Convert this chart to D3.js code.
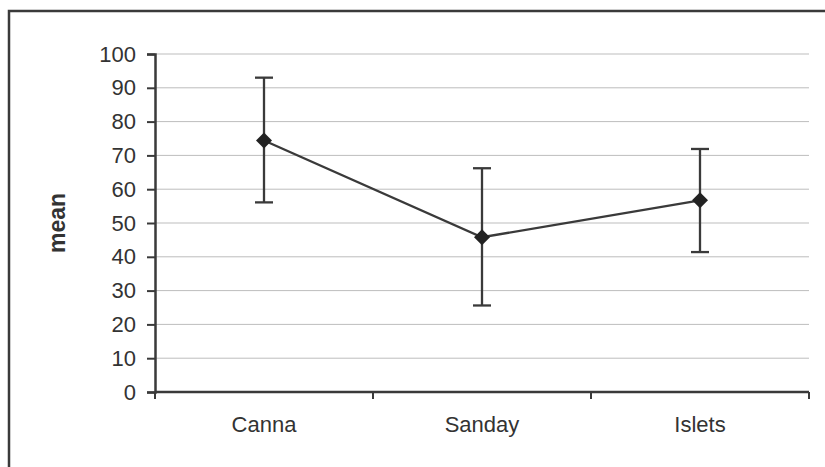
<html>
<head>
<style>
  body { margin: 0; background: #fff; }
  svg { display: block; font-family: "Liberation Sans", Arial, sans-serif; }
</style>
</head>
<body>
<script src="https://d3js.org/d3.v7.min.js"></script>
<svg width="825" height="467"></svg>
<script>
// values
var sites = ["Canna", "Sanday", "Islets"];
var means = [74.4, 45.8, 56.7];
var upper = [93.0, 66.2, 71.9];
var lower = [56.1, 25.6, 41.4];
var yTicks = [0, 10, 20, 30, 40, 50, 60, 70, 80, 90, 100];

var svg = d3.select("svg");
var ink = "#3a3a3a";

// outer frame (right and bottom run off the picture)
svg.append("rect")
    .attr("x", 9).attr("y", 11)
    .attr("width", 840).attr("height", 480)
    .attr("fill", "none").attr("stroke", ink).attr("stroke-width", 2.5);

var pl = 155, pr = 809, pt = 54, pb = 392;

var x = d3.scaleBand().domain(sites).range([pl, pr]);
var y = d3.scaleLinear().domain([0, 100]).range([pb, pt]);

// gridlines
svg.append("g").selectAll("line")
    .data(yTicks.slice(1))
    .enter().append("line")
    .attr("x1", pl).attr("x2", pr)
    .attr("y1", function(d) { return y(d); })
    .attr("y2", function(d) { return y(d); })
    .attr("stroke", "#bdbdbd").attr("stroke-width", 1);

// y axis
var yAxis = svg.append("g")
    .attr("transform", "translate(" + pl + ",0)")
    .call(d3.axisLeft(y).tickValues(yTicks).tickSize(8).tickPadding(11));
yAxis.select(".domain").attr("stroke", ink).attr("stroke-width", 2.5);
yAxis.selectAll(".tick line").attr("stroke", ink).attr("stroke-width", 2);
yAxis.selectAll(".tick text")
    .attr("fill", "#333").style("font-size", "22px")
    .attr("font-family", "'Liberation Sans', Arial, sans-serif");

// x axis, ticks between categories
var xAxis = svg.append("g")
    .attr("transform", "translate(0," + pb + ")");
xAxis.append("line")
    .attr("x1", pl).attr("x2", pr)
    .attr("stroke", ink).attr("stroke-width", 2.5);
var bounds = [pl].concat(sites.map(function(s) { return x(s) + x.bandwidth(); }));
xAxis.selectAll(".xt")
    .data(bounds)
    .enter().append("line")
    .attr("x1", function(d) { return d; }).attr("x2", function(d) { return d; })
    .attr("y1", 0).attr("y2", 7)
    .attr("stroke", ink).attr("stroke-width", 2);
xAxis.selectAll(".xl")
    .data(sites)
    .enter().append("text")
    .attr("x", function(d) { return x(d) + x.bandwidth() / 2; })
    .attr("y", 40)
    .attr("text-anchor", "middle")
    .attr("fill", "#333")
    .style("font-size", "22px")
    .text(function(d) { return d; });

// y label
svg.append("text")
    .attr("transform", "translate(65,223) rotate(-90)")
    .attr("text-anchor", "middle")
    .attr("fill", "#333")
    .style("font-size", "23px").style("font-weight", "bold")
    .text("mean");

var cx = function(i) { return x(sites[i]) + x.bandwidth() / 2; };

// error bars
var eb = svg.append("g");
sites.forEach(function(s, i) {
  eb.append("line")
      .attr("x1", cx(i)).attr("x2", cx(i))
      .attr("y1", y(upper[i])).attr("y2", y(lower[i]))
      .attr("stroke", ink).attr("stroke-width", 2.3);
  [upper[i], lower[i]].forEach(function(v) {
    eb.append("line")
        .attr("x1", cx(i) - 9).attr("x2", cx(i) + 9)
        .attr("y1", y(v)).attr("y2", y(v))
        .attr("stroke", ink).attr("stroke-width", 2.3);
  });
});

// mean line
var line = d3.line()
    .x(function(d, i) { return cx(i); })
    .y(function(d) { return y(d); });
svg.append("path")
    .attr("d", line(means))
    .attr("fill", "none").attr("stroke", ink).attr("stroke-width", 2.3);

// diamond markers
svg.append("g").selectAll("path")
    .data(means)
    .enter().append("path")
    .attr("transform", function(d, i) { return "translate(" + cx(i) + "," + y(d) + ")"; })
    .attr("d", "M0,-8L8,0L0,8L-8,0Z")
    .attr("fill", "#222");
</script>
</body>
</html>
